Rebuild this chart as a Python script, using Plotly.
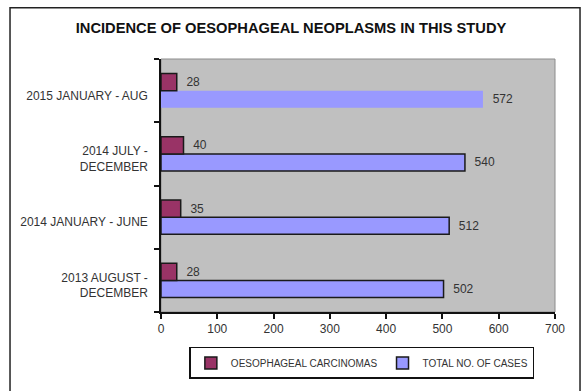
import plotly.graph_objects as go

# Study periods (bottom to top as drawn on the category axis)
periods = [
    "2013 AUGUST -<br>DECEMBER",
    "2014 JANUARY - JUNE",
    "2014 JULY -<br>DECEMBER",
    "2015 JANUARY - AUG",
]
carcinomas = [28, 35, 40, 28]
total_cases = [502, 512, 540, 572]

x_ticks = [0, 100, 200, 300, 400, 500, 600, 700]

fig = go.Figure()

fig.add_trace(go.Bar(
    name="TOTAL NO. OF CASES",
    y=periods, x=total_cases, orientation="h",
    marker=dict(color="#9999FF",
                line=dict(color="#1a1a1a", width=[1.5, 1.5, 1.5, 0])),
    text=total_cases, texttemplate="  %{x}", textposition="outside",
    textfont=dict(family="Arial", size=12, color="#333333"),
    cliponaxis=False,
))
fig.add_trace(go.Bar(
    name="OESOPHAGEAL CARCINOMAS",
    y=periods, x=carcinomas, orientation="h",
    marker=dict(color="#993366", line=dict(color="#1a1a1a", width=1.5)),
    text=carcinomas, texttemplate="  %{x}", textposition="outside",
    textfont=dict(family="Arial", size=12, color="#333333"),
    cliponaxis=False,
))

# Outer chart frame
fig.add_shape(type="rect", xref="paper", yref="paper",
              x0=-0.3832, x1=1.0635, y0=-0.35, y1=1.2022,
              line=dict(color="#222222", width=1.5), fillcolor="rgba(0,0,0,0)",
              layer="below")
# Plot area frame (light gray top/right)
fig.add_shape(type="rect", xref="paper", yref="paper",
              x0=0, x1=1, y0=0, y1=1,
              line=dict(color="#8c8c8c", width=1), fillcolor="rgba(0,0,0,0)",
              layer="below")

fig.update_layout(
    width=582, height=391,
    margin=dict(l=161, r=27, t=59, b=65),
    paper_bgcolor="white",
    plot_bgcolor="#C0C0C0",
    barmode="group",
    bargap=0.46,
    bargroupgap=0,
    font=dict(family="Arial", size=12, color="#333333"),
    title=dict(text="<b>INCIDENCE OF OESOPHAGEAL NEOPLASMS IN THIS STUDY</b>",
               x=0.5, xref="container", xanchor="center",
               y=1 - 28 / 391, yanchor="middle", yref="container",
               font=dict(family="Arial", size=14.7, color="#111111")),
    xaxis=dict(range=[0, 700], tickvals=x_ticks, showgrid=False, zeroline=False,
               showline=True, linecolor="#111111", linewidth=1.5,
               ticks="outside", ticklen=5, tickcolor="#111111", tickwidth=1.5,
               tickfont=dict(family="Arial", size=12, color="#333333")),
    yaxis=dict(categoryorder="array", categoryarray=periods, tickson="boundaries",
               showgrid=False, showline=True, linecolor="#111111", linewidth=1.5,
               ticks="outside", ticklen=5, tickcolor="#111111", tickwidth=1.5,
               ticklabelstandoff=9, ticklabelshift=5,
               tickfont=dict(family="Arial", size=12, color="#333333")),
    legend=dict(orientation="h", traceorder="reversed",
                x=0.072, xanchor="left", y=-0.138, yanchor="top",
                bordercolor="#111111", borderwidth=1.5, bgcolor="white",
                font=dict(family="Arial", size=10, color="#333333"),
                itemwidth=30),
    showlegend=True,
)

fig.write_html("out.html")
